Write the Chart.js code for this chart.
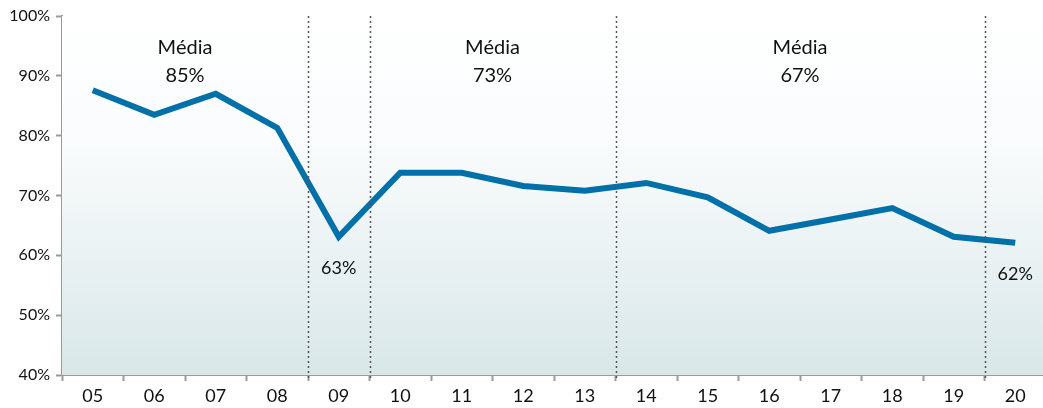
<!DOCTYPE html>
<html>
<head>
<meta charset="utf-8">
<script src="https://cdn.jsdelivr.net/npm/chart.js@4/dist/chart.umd.min.js"></script>
<style>
  html, body { margin: 0; padding: 0; background: #fff; overflow: hidden; }
  #wrap { width: 1047px; height: 408px; }
</style>
</head>
<body>
<div id="wrap"><canvas id="grafico" width="1047" height="408"></canvas></div>
<script>
// anos (eixo x)
const anos = ['05', '06', '07', '08', '09', '10', '11', '12', '13', '14', '15', '16', '17', '18', '19', '20'];
// taxa por ano, em %
const taxa = [87.6, 83.5, 87.0, 81.3, 63.1, 73.8, 73.8, 71.6, 70.8, 72.1, 69.7, 64.1, 66.0, 67.9, 63.1, 62.1];
// eixo y
const yTicks = [40, 50, 60, 70, 80, 90, 100];
// separadores entre periodos (indice do ano a direita da linha)
const separadores = [4, 5, 9, 15];
// medias por periodo
const mediaTexto = ['85%', '73%', '67%'];
const mediaPos = [1.5, 6.5, 11.5];
// rotulos nos pontos
const rotuloIdx = [4, 15];
const rotuloTexto = ['63%', '62%'];

const fonte = 'Lato, "DejaVu Sans", sans-serif';
const corTexto = '#111';
const cinza = '#9a9a9a';

const fundoPlugin = {
  id: 'fundo',
  beforeDatasetsDraw(chart) {
    const { ctx, chartArea: a } = chart;
    const g = ctx.createLinearGradient(0, a.top, 0, a.bottom);
    g.addColorStop(0, '#ffffff');
    g.addColorStop(0.35, '#fafcfd');
    g.addColorStop(1, '#d9e7e9');
    ctx.save();
    ctx.fillStyle = g;
    ctx.fillRect(a.left, a.top, a.right - a.left, a.bottom - a.top);
    ctx.restore();
  }
};

const anotacoes = {
  id: 'anotacoes',
  afterDatasetsDraw(chart) {
    const { ctx, chartArea: a, scales } = chart;
    const x = scales.x, y = scales.y;
    ctx.save();

    // linhas tracejadas
    ctx.strokeStyle = '#555';
    ctx.lineWidth = 1.5;
    ctx.setLineDash([2, 3]);
    separadores.forEach(i => {
      const px = Math.round(x.getPixelForValue(i - 0.5)) + 0.5;
      ctx.beginPath();
      ctx.moveTo(px, a.top);
      ctx.lineTo(px, a.bottom + 6);
      ctx.stroke();
    });
    ctx.setLineDash([]);

    // medias
    ctx.fillStyle = corTexto;
    ctx.textAlign = 'center';
    ctx.textBaseline = 'middle';
    ctx.font = '20px ' + fonte;
    mediaTexto.forEach((t, i) => {
      const px = x.getPixelForValue(mediaPos[i]);
      ctx.fillText('Média', px, y.getPixelForValue(94.7));
      ctx.fillText(t, px, y.getPixelForValue(90.0));
    });

    // rotulos dos pontos
    ctx.font = '18px ' + fonte;
    rotuloIdx.forEach((idx, i) => {
      const px = x.getPixelForValue(idx);
      const py = y.getPixelForValue(taxa[idx]);
      ctx.fillText(rotuloTexto[i], px, py + 31);
    });
    ctx.restore();
  }
};

new Chart(document.getElementById('grafico'), {
  type: 'line',
  data: {
    labels: anos,
    datasets: [{
      data: taxa,
      borderColor: '#0070a8',
      borderWidth: 6,
      borderJoinStyle: 'miter',
      borderCapStyle: 'butt',
      pointRadius: 0,
      tension: 0,
      fill: false
    }]
  },
  options: {
    responsive: false,
    animation: false,
    layout: { padding: { top: 16, right: 1, left: 0, bottom: 0 } },
    plugins: {
      legend: { display: false },
      tooltip: { enabled: false }
    },
    scales: {
      x: {
        offset: true,
        grid: {
          offset: true,
          drawOnChartArea: false,
          drawTicks: true,
          tickLength: 6,
          tickColor: cinza,
          tickWidth: 2
        },
        border: { color: cinza, width: 2 },
        ticks: { color: corTexto, font: { size: 18, family: fonte }, padding: 4 },
        afterFit(s) { s.height = 33; }
      },
      y: {
        min: 40,
        max: 100,
        afterBuildTicks(s) { s.ticks = yTicks.map(v => ({ value: v })); },
        grid: {
          drawOnChartArea: false,
          drawTicks: true,
          tickLength: 6,
          tickColor: cinza,
          tickWidth: 2
        },
        border: { color: cinza, width: 2 },
        ticks: {
          color: corTexto,
          font: { size: 16, family: fonte },
          padding: 6,
          callback: v => v + '%'
        },
        afterFit(s) { s.width = 62; }
      }
    }
  },
  plugins: [fundoPlugin, anotacoes]
});
</script>
</body>
</html>
